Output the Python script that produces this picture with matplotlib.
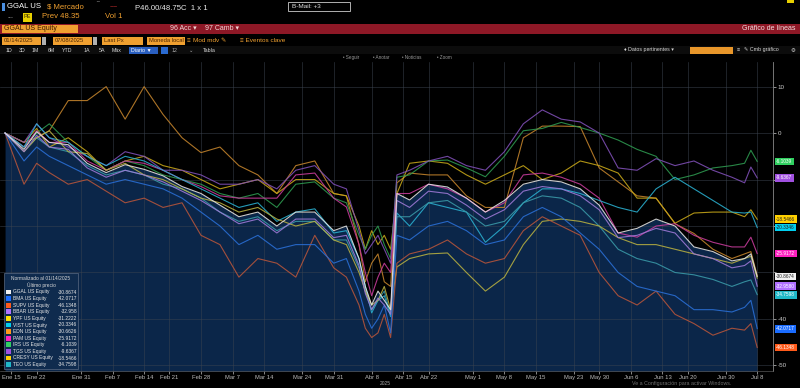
import numpy as np
import matplotlib
matplotlib.use("Agg")
import matplotlib.pyplot as plt
from matplotlib.patches import Rectangle
from matplotlib.transforms import blended_transform_factory

plt.rcParams["font.family"] = ["Liberation Sans", "DejaVu Sans"]

START = "2025-01-14"
HOLIDAYS = ["2025-01-20", "2025-02-17", "2025-04-18", "2025-05-26", "2025-06-19", "2025-07-04"]

dates = ["2025-01-14", "2025-01-17", "2025-01-22", "2025-01-24", "2025-01-29", "2025-02-03",
         "2025-02-06", "2025-02-11", "2025-02-14", "2025-02-20", "2025-02-25", "2025-02-28",
         "2025-03-05", "2025-03-10", "2025-03-13", "2025-03-18", "2025-03-21", "2025-03-26",
         "2025-03-31", "2025-04-02", "2025-04-04", "2025-04-07", "2025-04-08", "2025-04-09",
         "2025-04-10", "2025-04-11", "2025-04-14", "2025-04-16", "2025-04-22", "2025-04-25",
         "2025-04-30", "2025-05-05", "2025-05-08", "2025-05-13", "2025-05-16", "2025-05-21",
         "2025-05-27", "2025-05-30", "2025-06-04", "2025-06-09", "2025-06-12", "2025-06-17",
         "2025-06-23", "2025-06-26", "2025-07-01", "2025-07-03", "2025-07-07", "2025-07-08"]

ggal = [0, -3.5, 0.3, -2, -2.5, -6.5, -8.5, -6.8, -7.8, -9.2, -11.5, -13, -15.5, -18, -17, -20,
        -17, -17, -21, -20, -27, -33, -37, -34, -36, -38, -13, -14.4, -11, -11.6, -14, -17,
        -14.5, -11, -10, -10.5, -12, -15.5, -21.5, -20.5, -18.5, -20, -24.5, -25.5, -27.5, -27, -26, -30.87]
bma = [0, -6, -3, -5, -7, -9, -11, -10, -11, -12, -14, -17, -20, -24, -22, -25,
       -24, -24, -28, -27, -34, -39, -42, -40, -37, -43, -22, -23, -20, -19, -21, -24,
       -23, -18, -16, -18, -21.5, -25, -30, -33, -34, -35, -38, -38, -38.5, -37.5, -36, -42.07]
supv = [0, -11, -6.5, -8.5, -11, -10, -12.5, -15, -14, -16, -15, -22, -24, -31, -27, -28,
        -31, -22, -29, -31, -37, -42, -44, -43, -39, -44, -28, -26, -25, -23, -26, -28,
        -27, -21, -18, -20, -22, -30, -35, -37, -34, -39, -41, -43.5, -42, -42.4, -41, -46.13]
bbar = [0, -4, -0.5, -3, -3.5, -7.5, -9.5, -8, -9, -10.5, -12.5, -14.5, -17, -19.5, -18.5, -21.5,
        -18.5, -18.5, -22.5, -22, -28.5, -34.5, -38, -35.5, -37, -39, -14.5, -16, -12.5, -13, -15.5, -18.5,
        -16.5, -12.5, -11.5, -12, -13.5, -16.5, -22.5, -22, -20.5, -21.5, -26, -27, -29, -28.5, -27.5, -32.96]
ypf = [0, -4, -1, 0.5, -4, -4.4, -8, -6.5, -9, -10, -12, -14, -15, -17, -16, -18.5,
       -20, -19, -23, -24, -30, -34, -37, -36, -33, -38, -28.8, -27, -26, -25.8, -30, -34,
       -31, -24, -19, -18.5, -19, -20, -22.5, -24, -24, -25, -26, -27, -28, -27, -26.5, -31.22]
vist = [0, -3, 2, -1, -2, -5, -7, -5, -6, -8, -10, -12, -14, -16, -15, -19,
        -17, -16.3, -21.5, -21, -27, -33, -38.7, -36, -35, -39.5, -17.2, -20, -15, -16, -17, -23.5,
        -20, -15, -12, -12, -13, -14.5, -16, -17, -12, -9.5, -12, -14.5, -17, -17.2, -17, -20.33]
edn = [0, -2, -1, 0.5, 7, 7, 10, 3, 10, 4, -1, -4.2, -3, -7, -9, -13,
       -7, -6, -13, -13.5, -24, -32, -28, -26, -32, -33, -10.7, -8.6, -9, -9, -13.5, -16,
       -16, -1, 1.5, 1.5, 1.4, -7.5, -10.5, -13.5, -14, -19.5, -21.6, -25, -27, -26, -25.5, -30.66]
pam = [0, -3, 0.5, -2, -2, -6, -8, -6, -6.5, -8, -10, -11.5, -13.5, -14, -14, -14,
       -9, -8.6, -14, -15.9, -24, -30, -35, -31, -28, -30, -13, -13, -11, -12, -14, -17,
       -15, -9, -8.6, -9.5, -11, -14, -21.5, -22.4, -20, -19.5, -22, -23.5, -24.5, -24.5, -22.4, -25.92]
irs = [0, -3, 0, 2, -2, -5, -8, -6, -7, -9, -10, -11, -13, -14, -13, -16,
       -11, -10.5, -14, -15, -22, -25, -22, -20, -24, -27, -9.5, -9, -6, -5.8, -7.5, -9.4,
       -5, 0.5, 1, 2.3, 1.2, 0, -1.5, -3.5, -5, -10, -9, -7.5, -7, -6.5, -3.7, -6.10]
tgs = [0, -2, 2, -1, -3, -5, -7, -4, -5, -8, -8, -9, -11, -11, -10, -12,
       -8, -7, -11, -12, -21, -26, -24, -22, -25, -28, -9, -8, -6, -5, -7, -8,
       -4, 2, 5, 3, 2.4, 0, -7.5, -8, -5.5, -7, -6, -8, -9.5, -10.7, -7.3, -9.64]
cresy = [0, -2, 1, -3, -1, -4, -8, -6, -5, -7, -8, -10, -12, -11, -10, -13,
         -10, -10, -13, -13.5, -20, -25, -21, -24, -22, -25, -13, -6.5, -6, -6.5, -9, -11,
         -9, -7, -10, -8.6, -6, -7, -8.6, -14, -14, -19.4, -17.2, -17, -17, -18, -16.5, -18.55]
teo = [0, -4, -1, -3, -4, -7, -9, -8, -9, -11, -12, -14, -17, -19, -18, -21,
       -19, -19, -23, -23, -29, -34, -38, -36, -34, -39, -18, -18, -15, -14.5, -17, -20,
       -19, -15, -13.5, -14, -16, -20, -25, -27, -28, -30, -30.5, -31.5, -33, -32, -31.6, -34.76]

names = ["GGAL US Equity", "BMA US Equity", "SUPV US Equity", "BBAR US Equity", "YPF US Equity",
         "VIST US Equity", "EDN US Equity", "PAM US Equity", "IRS US Equity", "TGS US Equity",
         "CRESY US Equity", "TEO US Equity"]
last_px = [-30.8674, -42.0717, -46.1348, -32.958, -31.2222, -20.3346, -30.6626, -25.9172,
           -6.1039, -9.6367, -18.5466, -34.7598]
series = [ggal, bma, supv, bbar, ypf, vist, edn, pam, irs, tgs, cresy, teo]

line_colors = ["#e6e6e6", "#2a6fd6", "#b8553a", "#a07ad8", "#b8b040", "#2ab0d0",
               "#c4842c", "#c83c9c", "#2e9a50", "#8050b8", "#c8a818", "#3a9aa8"]
tag_colors = ["#f2f2f2", "#1a6cff", "#ff5a1a", "#b070ff", "#ffe000", "#00cff0",
              "#ff9a1a", "#ff20c0", "#30d060", "#a050e0", "#ffd000", "#20b8c8"]
dark_text = {"#f2f2f2", "#ffe000", "#ffd000", "#00cff0"}

tick_dates = ["2025-01-15", "2025-01-22", "2025-01-31", "2025-02-07", "2025-02-14", "2025-02-21",
              "2025-02-28", "2025-03-07", "2025-03-14", "2025-03-24", "2025-03-31", "2025-04-08",
              "2025-04-15", "2025-04-22", "2025-05-01", "2025-05-08", "2025-05-15", "2025-05-23",
              "2025-05-30", "2025-06-06", "2025-06-13", "2025-06-20", "2025-06-30", "2025-07-08"]
tick_labels = ["Ene 15", "Ene 22", "Ene 31", "Feb 7", "Feb 14", "Feb 21", "Feb 28", "Mar 7",
               "Mar 14", "Mar 24", "Mar 31", "Abr 8", "Abr 15", "Abr 22", "May 1", "May 8",
               "May 15", "May 23", "May 30", "Jun 6", "Jun 13", "Jun 20", "Jun 30", "Jul 8"]

# trading-day positions (Bloomberg daily charts skip weekends/holidays)
x = np.busday_count(START, dates, holidays=HOLIDAYS)
xt = np.busday_count(START, tick_dates, holidays=HOLIDAYS)

W, H = 800, 388
fig = plt.figure(figsize=(W / 100, H / 100), dpi=100, facecolor="black")
ax = fig.add_axes([0, (H - 371) / H, 773 / W, (371 - 62) / H])
ax.set_facecolor("black")
ax.set_xlim(-0.8, 121.5)
ax.set_ylim(-51.2, 15.3)

ax.fill_between(x, ggal, -60, color="#0b2649", lw=0, zorder=1)
ax.set_axisbelow("line")
ax.grid(True, color="#3c4450", lw=0.5, alpha=0.7)

order = [6, 10, 8, 9, 7, 5, 11, 4, 2, 1, 3, 0]
for i in order:
    ax.plot(x, series[i], color=line_colors[i], lw=0.8, alpha=0.88, zorder=2 + (i == 0))

ax.set_xticks(xt)
ax.set_xticklabels(tick_labels)
# -10/-20/-30 labels sit under the price tags in the terminal
ax.set_yticks([10, 0, -10, -20, -30, -40, -50])
ax.set_yticklabels(["10", "0", "", "", "", "-40", "-50"])
ax.yaxis.tick_right()
ax.tick_params(axis="x", colors="#bbbbbb", labelsize=4.2, length=2, pad=1.2, width=0.5)
ax.tick_params(axis="y", colors="#cccccc", labelsize=4.5, length=2, pad=1.5, width=0.5)
for s in ["left", "top"]:
    ax.spines[s].set_visible(False)
ax.spines["right"].set_color("#888888")
ax.spines["right"].set_linewidth(0.6)
ax.spines["bottom"].set_color("#555555")
ax.spines["bottom"].set_linewidth(0.5)

# last-price tags on the right axis (YPF and EDN sit hidden under GGAL)
trans = blended_transform_factory(ax.transAxes, ax.transData)
for i in [0, 3, 11, 1, 2, 7, 5, 10, 9, 8]:
    c = tag_colors[i]
    ax.text(1.004, last_px[i], f"{last_px[i]:.4f}", transform=trans, ha="left", va="center",
            fontsize=3.4, color="#202020" if c in dark_text else "white", clip_on=False, zorder=10,
            bbox=dict(boxstyle="square,pad=0.3", fc=c, ec="none"))

# overlay in pixel coordinates for the terminal chrome
ov = fig.add_axes([0, 0, 1, 1], zorder=5)
ov.set_xlim(0, W)
ov.set_ylim(H, 0)
ov.axis("off")
ov.patch.set_alpha(0)

amber = "#f0a030"


def box(x0, y0, w, h, fc, ec="none", lw=0.5):
    ov.add_patch(Rectangle((x0, y0), w, h, fc=fc, ec=ec, lw=lw))


def txt(x0, y0, s, c="white", fs=5, ha="left", **kw):
    ov.text(x0, y0, s, color=c, fontsize=fs, ha=ha, va="center", **kw)


# row 1
box(2, 3, 3, 8, "#4a8ee0")
txt(7, 7, "GGAL US", fs=5.6)
txt(47, 7, "$ Mercado", amber, 5.6)
txt(96, 5, "‾‾", "#dddddd", 4)
txt(110, 7.5, "~~", "#d03030", 5)
txt(135, 8, "P46.00/48.75C  1 x 1", "#e8e8e8", 5.6)
box(288, 1.5, 62, 9, "black", "#cccccc", 0.6)
txt(292, 6, "B-Mail: +3", "#e0e0e0", 4.6)
box(787, 0, 7, 3, "#e8d000")
# row 2
txt(7, 17, "...", "#cccccc", 5)
box(23, 12.5, 9, 9, "#e8d000")
txt(27.5, 17, "PE", "#3a2a00", 4, ha="center")
txt(42, 17, "Prev 48.35", amber, 5.6)
txt(105, 17, "Vol 1", amber, 5.6)
# red bar
box(0, 24, W, 10, "#8e1826")
box(2, 25, 76, 8, amber)
txt(4, 29, "GGAL US Equity", "#3a1800", 5)
txt(170, 29, "96 Acc ▾", "#f2d8d8", 5)
txt(205, 29, "97 Camb ▾", "#f2d8d8", 5)
txt(795, 29, "Gráfico de líneas", "#f2e0e0", 5, ha="right")
# row 3
for bx, bw, s in [(2, 39, "01/14/2025"), (53, 39, "07/08/2025"), (102, 41, "Last Px"), (147, 38, "Moneda local")]:
    box(bx, 37, bw, 8, amber)
    txt(bx + 2, 41, s, "#4a2400", 4.2)
box(42, 37, 4, 8, "#b0b0b0")
box(93, 37, 4, 8, "#b0b0b0")
txt(187, 41, "≡", amber, 4.6)
txt(193, 41, "Mod mdv ✎", amber, 4.6)
txt(240, 41, "≡ Eventos clave", amber, 4.6)
# row 4
box(0, 46, W, 8, "#0c0c0c")
for px, s in zip([6, 19, 32, 48, 62, 84, 99, 112], ["1D", "3D", "1M", "6M", "YTD", "1A", "5A", "Máx"]):
    txt(px, 50, s, "#d8d8d8", 3.8)
box(129, 46.5, 29, 7, "#2a5fc0")
txt(131, 50, "Diario ▼", "white", 3.8)
box(161, 46.5, 7, 7, "#2a6ad0")
txt(172, 50, "12", "#aaaaaa", 3.8)
txt(189, 50, "⌄", "#aaaaaa", 3.8)
txt(203, 50, "Tabla", "#d8d8d8", 3.8)
txt(624, 50, "♦ Datos pertinentes ▾", "#d8d8d8", 3.8)
box(690, 46.5, 43, 7, "#e8962a")
txt(737, 50, "≡", "#d8d8d8", 3.8)
txt(744, 50, "✎ Cmb gráfico", "#d8d8d8", 3.8)
txt(791, 50, "⚙", "#d8d8d8", 4)
# row 5
for px, s in zip([343, 373, 402, 437], ["• Seguir", "• Anotar", "• Noticias", "• Zoom"]):
    txt(px, 57.5, s, "#9a9a9a", 3.3)

# legend panel
box(4, 273, 74, 96, "#0f2b4e", "#5a6a82", 0.5)
txt(41, 279, "Normalizado al 01/14/2025", "#d8d8d8", 3.5, ha="center")
txt(41, 285, "Último precio", "#d8d8d8", 3.5, ha="center")
for k in range(len(names)):
    yy = 292 + k * 6.6
    box(6, yy - 2.4, 4.8, 4.8, tag_colors[k])
    txt(13, yy, names[k], "#e8e8e8", 3.5)
    val = f"{last_px[k]:.4f}".rstrip("0") if k == 3 else f"{last_px[k]:.4f}"
    txt(77, yy, val, "#e8e8e8", 3.5, ha="right")

txt(385, 383.5, "2025", "#aaaaaa", 3.5, ha="center")
txt(682, 383.5, "Ve a Configuración para activar Windows.", "#707070", 3.8, ha="center")

fig.savefig("out.png", dpi=100, facecolor="black")
